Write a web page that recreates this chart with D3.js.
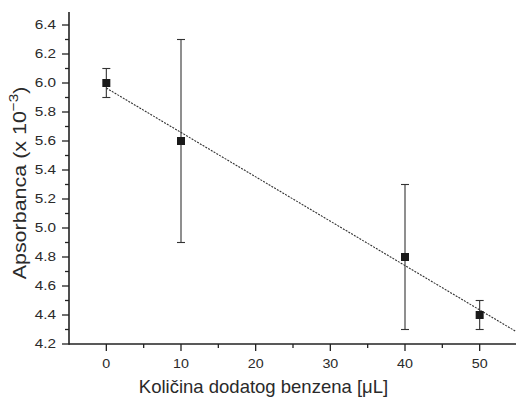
<!DOCTYPE html>
<html><head><meta charset="utf-8">
<script src="https://cdn.jsdelivr.net/npm/d3@7"></script>
<style>body{margin:0;background:#fff}svg{display:block}text{font-family:"Liberation Sans",Arial,sans-serif;fill:#2a2a2a}</style>
</head><body><svg id="c" width="516" height="397"></svg>
<script>
const xValues = [0, 10, 40, 50];
const yValues = [6.0, 5.6, 4.8, 4.4];
const yErrors = [0.1, 0.7, 0.5, 0.1];
const fitX = [0, 55];
const fitY = [5.965, 4.282];
const xTicks = [0, 10, 20, 30, 40, 50];
const yTicks = [4.2, 4.4, 4.6, 4.8, 5.0, 5.2, 5.4, 5.6, 5.8, 6.0, 6.2, 6.4];

const svg = d3.select("#c");
const x = d3.scaleLinear().domain([-5, 55]).range([69, 517]);
const y = d3.scaleLinear().domain([4.2, 6.4]).range([344, 25]);
const yTop = 6.49;

// fit line
const line = d3.line().x(d => x(d[0])).y(d => y(d[1]));
svg.append("path").datum(fitX.map((v, i) => [v, fitY[i]]))
  .attr("d", line).attr("fill", "none").attr("stroke", "#333")
  .attr("stroke-width", 1.1).attr("stroke-dasharray", "2,1.2");

// error bars
const eb = svg.append("g").attr("stroke", "#333").attr("stroke-width", 1.1);
xValues.forEach((xv, i) => {
  const cx = x(xv), y1 = y(yValues[i] + yErrors[i]), y2 = y(yValues[i] - yErrors[i]);
  eb.append("line").attr("x1", cx).attr("x2", cx).attr("y1", y1).attr("y2", y2);
  eb.append("line").attr("x1", cx - 4).attr("x2", cx + 4).attr("y1", y1).attr("y2", y1);
  eb.append("line").attr("x1", cx - 4).attr("x2", cx + 4).attr("y1", y2).attr("y2", y2);
});

// markers
svg.append("g").selectAll("rect").data(xValues).join("rect")
  .attr("x", (d) => x(d) - 4).attr("y", (d, i) => y(yValues[i]) - 4)
  .attr("width", 8).attr("height", 8).attr("fill", "#1a1a1a");

// axes
const ax = svg.append("g").attr("stroke", "#222");
ax.append("line").attr("x1", x(-5)).attr("x2", 516).attr("y1", y(4.2)).attr("y2", y(4.2)).attr("stroke-width", 1.6);
ax.append("line").attr("x1", x(-5)).attr("x2", x(-5)).attr("y1", y(4.2) + 0.8).attr("y2", y(yTop)).attr("stroke-width", 1.6);

// y ticks
const yMinor = d3.range(4.3, 6.5, 0.2);
yTicks.forEach(t => {
  ax.append("line").attr("x1", x(-5) - 7).attr("x2", x(-5)).attr("y1", y(t)).attr("y2", y(t)).attr("stroke-width", 1.3);
  svg.append("text").attr("transform", `translate(56,${y(t) + 4.3}) scale(1.18,1)`)
    .attr("text-anchor", "end").attr("font-size", 13).text(t.toFixed(1));
});
yMinor.forEach(t => {
  ax.append("line").attr("x1", x(-5) - 4).attr("x2", x(-5)).attr("y1", y(t)).attr("y2", y(t)).attr("stroke-width", 1.3);
});
// x ticks
xTicks.forEach(t => {
  ax.append("line").attr("x1", x(t)).attr("x2", x(t)).attr("y1", y(4.2)).attr("y2", y(4.2) + 7).attr("stroke-width", 1.3);
  svg.append("text").attr("transform", `translate(${x(t)},368) scale(1.1,1)`)
    .attr("text-anchor", "middle").attr("font-size", 13).text(t);
});
[5, 15, 25, 35, 45].forEach(t => {
  ax.append("line").attr("x1", x(t)).attr("x2", x(t)).attr("y1", y(4.2)).attr("y2", y(4.2) + 4).attr("stroke-width", 1.3);
});

// axis titles
svg.append("text").attr("x", 263.5).attr("y", 392.5).attr("text-anchor", "middle")
  .attr("font-size", 18.5).text("Količina dodatog benzena [μL]");
const yt = svg.append("text").attr("transform", "translate(26,183) rotate(-90) scale(1.13,1)")
  .attr("text-anchor", "middle").attr("font-size", 19);
yt.append("tspan").text("Apsorbanca (x 10");
yt.append("tspan").attr("dy", -8).attr("font-size", 13.5).text("−3");
yt.append("tspan").attr("dy", 8).text(")");
</script></body></html>
